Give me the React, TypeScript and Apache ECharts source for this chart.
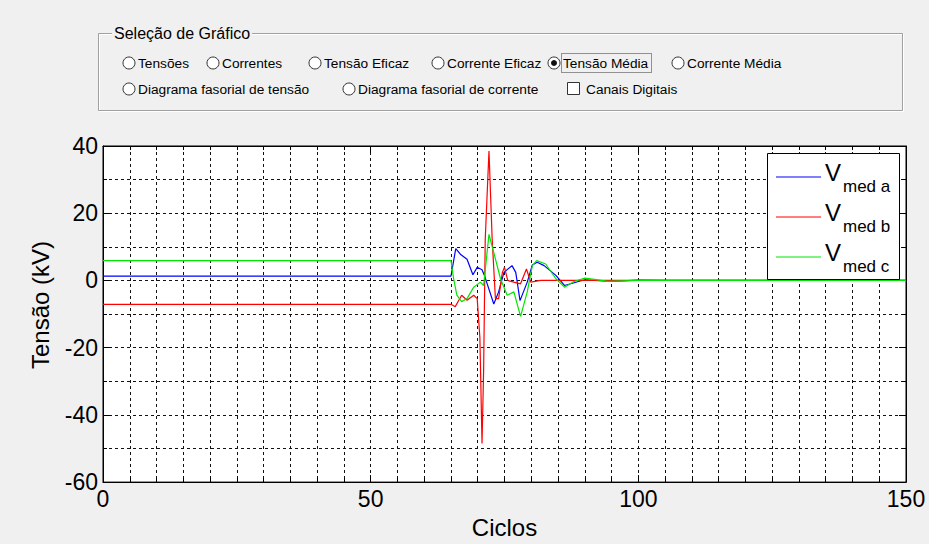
import React, { useEffect, useRef } from "react";
import * as echarts from "echarts";

// ---------- texts ----------
const groupTitle = "Seleção de Gráfico";
const row1Labels = ["Tensões", "Correntes", "Tensão Eficaz", "Corrente Eficaz", "Tensão Média", "Corrente Média"];
const row2Labels = ["Diagrama fasorial de tensão", "Diagrama fasorial de corrente"];
const checkboxLabel = "Canais Digitais";
const selectedLabel = "Tensão Média";
const xTitle = "Ciclos";
const yTitle = "Tensão (kV)";

// ---------- series ----------
const seriesNames = ["V med a", "V med b", "V med c"];
const seriesMain = ["V", "V", "V"];
const seriesSub = ["med a", "med b", "med c"];
const seriesColors = ["#0000ff", "#ff0000", "#00e600"];

// axis ranges / ticks
const xRange = [0, 150];
const xStep = 50;
const xMinorSplit = 10;
const yRange = [-60, 40];
const yStep = 20;
const yMinorSplit = 2;

// V med a (blue)
const tA = [0, 65, 65.9, 66.75, 68, 69.1, 69.9, 70.8, 71.25, 73, 73.9, 74.9, 76.4, 77.1, 77.9, 79.25, 80.2, 81.1, 82.4, 84.6, 86.2, 88, 90, 91.8, 95, 100, 105, 150];
const vA = [1.3, 1.3, 9.5, 7.8, 6.3, 1.7, 3.9, 3.2, 1.5, -7, -3.4, 2.4, 4.4, 2.4, -6, -0.5, 4.6, 5.4, 4.4, 1.5, -1.5, -0.7, 0.2, 0, -0.3, 0.1, 0, 0];

// V med b (red)
const tB = [0, 65, 65.8, 67, 68, 69.25, 69.9, 70.4, 70.8, 71.1, 71.4, 72.1, 72.7, 73.3, 73.9, 74.6, 75, 75.6, 76.75, 78, 79.1, 79.9, 81.75, 150];
const vB = [-7.1, -7.1, -7.8, -4.4, -5.9, -4.4, -5.4, -17, -48.5, -26.8, 12.2, 38.5, 12.2, -5.4, -5.4, 2.4, 3.9, 0, -0.5, -1, 3.4, -0.5, 0, 0];

// V med c (green)
const tC = [0, 65, 65.5, 66.1, 67, 68, 69.25, 70.5, 71.1, 72.1, 73, 74.25, 75.5, 76.75, 78, 79.25, 80.2, 81, 82.7, 84.6, 86.2, 88, 90, 91.8, 94.3, 100, 150];
const vC = [5.9, 5.9, 0.5, -4.4, -6.3, -5.4, -2, -0.5, -1.5, 13.7, 8.3, 0.5, -4.4, -3.4, -10.7, -3.4, 4.4, 5.9, 4.9, 0.5, -2, -0.3, 0.7, 0.3, -0.3, 0, 0];

const seriesT = [tA, tB, tC];
const seriesV = [vA, vB, vC];

const FONT = "'Liberation Sans', Arial, sans-serif";
const GUI_FS = 13.7;

function buildPanel(): any[] {
  const els: any[] = [];
  // etched group box
  els.push({ type: "rect", shape: { x: 99.5, y: 34.5, width: 804, height: 77 }, style: { fill: "none", stroke: "#ffffff", lineWidth: 1 }, silent: true });
  els.push({ type: "rect", shape: { x: 98.5, y: 33.5, width: 804, height: 77 }, style: { fill: "none", stroke: "#a0a0a0", lineWidth: 1 }, silent: true });
  els.push({
    type: "text", x: 112, y: 33,
    style: { text: groupTitle, fontSize: 16, fontFamily: FONT, fill: "#000", verticalAlign: "middle", backgroundColor: "#f0f0f0", padding: [0, 2] },
  });
  const row1X = [129, 213, 315, 438, 554, 678];
  const row2X = [129, 349];
  const rowY = [63, 89];
  const addRadio = (label: string, cx: number, cy: number) => {
    els.push({ type: "circle", shape: { cx, cy, r: 6 }, style: { fill: "#ffffff", stroke: "#333333", lineWidth: 1 } });
    if (label === selectedLabel) {
      els.push({ type: "circle", shape: { cx, cy, r: 3 }, style: { fill: "#111111" } });
    }
    els.push({ type: "text", x: cx + 9, y: cy, style: { text: label, fontSize: GUI_FS, fontFamily: FONT, fill: "#000", verticalAlign: "middle" } });
    if (label === selectedLabel) {
      els.push({ type: "rect", shape: { x: cx + 7.5, y: cy - 9.5, width: 90, height: 19 }, style: { fill: "none", stroke: "#333", lineWidth: 1, lineDash: [1, 1] } });
    }
  };
  row1Labels.forEach((l, i) => addRadio(l, row1X[i], rowY[0]));
  row2Labels.forEach((l, i) => addRadio(l, row2X[i], rowY[1]));
  // checkbox
  els.push({ type: "rect", shape: { x: 567.5, y: 82.5, width: 12, height: 12 }, style: { fill: "#ffffff", stroke: "#333333", lineWidth: 1 } });
  els.push({ type: "text", x: 586, y: 89, style: { text: checkboxLabel, fontSize: GUI_FS, fontFamily: FONT, fill: "#000", verticalAlign: "middle" } });
  return els;
}

function buildLegend(): any[] {
  const els: any[] = [];
  els.push({ type: "rect", z: 10, shape: { x: 767.5, y: 153.5, width: 132, height: 126 }, style: { fill: "#ffffff", stroke: "#000000", lineWidth: 1 } });
  seriesNames.forEach((_, i) => {
    const ly = 177 + i * 40;
    els.push({ type: "line", z: 11, shape: { x1: 776, y1: ly, x2: 821, y2: ly }, style: { stroke: seriesColors[i], lineWidth: 1.2 } });
    els.push({ type: "text", z: 11, x: 825, y: ly - 5, style: { text: seriesMain[i], fontSize: 24, fontFamily: FONT, fill: "#000", verticalAlign: "middle" } });
    els.push({ type: "text", z: 11, x: 843, y: ly + 9, style: { text: seriesSub[i], fontSize: 17, fontFamily: FONT, fill: "#000", verticalAlign: "middle" } });
  });
  return els;
}

export default function App() {
  const ref = useRef<HTMLDivElement>(null);
  useEffect(() => {
    if (!ref.current) return;
    const chart = echarts.init(ref.current, null, { renderer: "svg" });
    const dash = { type: [3, 3] as any, color: "#111", width: 1 };
    const option: any = {
      animation: false,
      backgroundColor: "#f0f0f0",
      textStyle: { fontFamily: FONT },
      grid: { left: 103, top: 146, width: 803, height: 341, show: true, backgroundColor: "#ffffff", borderColor: "#000", borderWidth: 1 },
      xAxis: [
        {
          type: "value", min: xRange[0], max: xRange[1], interval: xStep, position: "bottom",
          axisLine: { show: true, onZero: false, lineStyle: { color: "#000" } },
          axisTick: { show: true, inside: true, length: 7, lineStyle: { color: "#000" } },
          minorTick: { show: true, splitNumber: xMinorSplit, length: 4, lineStyle: { color: "#000" } },
          axisLabel: { fontSize: 23, color: "#000", margin: 5, fontFamily: FONT },
          splitLine: { show: true, lineStyle: dash },
          minorSplitLine: { show: true, lineStyle: dash },
          name: xTitle, nameLocation: "middle", nameGap: 30,
          nameTextStyle: { fontSize: 24, color: "#000", fontFamily: FONT },
        },
        {
          type: "value", min: xRange[0], max: xRange[1], interval: xStep, position: "top",
          axisLine: { show: true, onZero: false, lineStyle: { color: "#000" } },
          axisTick: { show: true, inside: true, length: 7, lineStyle: { color: "#000" } },
          minorTick: { show: true, splitNumber: xMinorSplit, length: 4, lineStyle: { color: "#000" } },
          axisLabel: { show: false },
          splitLine: { show: false },
        },
      ],
      yAxis: [
        {
          type: "value", min: yRange[0], max: yRange[1], interval: yStep, position: "left",
          axisLine: { show: true, onZero: false, lineStyle: { color: "#000" } },
          axisTick: { show: true, inside: true, length: 7, lineStyle: { color: "#000" } },
          minorTick: { show: true, splitNumber: yMinorSplit, length: 4, lineStyle: { color: "#000" } },
          axisLabel: { fontSize: 23, color: "#000", margin: 5, fontFamily: FONT },
          splitLine: { show: true, lineStyle: dash },
          minorSplitLine: { show: true, lineStyle: dash },
        },
        {
          type: "value", min: yRange[0], max: yRange[1], interval: yStep, position: "right",
          axisLine: { show: true, onZero: false, lineStyle: { color: "#000" } },
          axisTick: { show: true, inside: true, length: 7, lineStyle: { color: "#000" } },
          minorTick: { show: true, splitNumber: yMinorSplit, length: 4, lineStyle: { color: "#000" } },
          axisLabel: { show: false },
          splitLine: { show: false },
        },
      ],
      series: seriesNames.map((name, i) => ({
        name,
        type: "line",
        xAxisIndex: 0,
        yAxisIndex: 0,
        data: seriesT[i].map((t, k) => [t, seriesV[i][k]]),
        showSymbol: false,
        symbol: "none",
        lineStyle: { color: seriesColors[i], width: 1.2 },
        itemStyle: { color: seriesColors[i] },
      })),
      graphic: [
        ...buildPanel(),
        ...buildLegend(),
        {
          type: "text", x: 40, y: 305, rotation: Math.PI / 2,
          style: { text: yTitle, fontSize: 24, fontFamily: FONT, fill: "#000", align: "center", verticalAlign: "middle" },
        },
      ],
    };
    chart.setOption(option);
    return () => chart.dispose();
  }, []);
  return (
    <div
      ref={ref}
      style={{ position: "fixed", left: 0, top: 0, width: 929, height: 544, background: "#f0f0f0" }}
    />
  );
}
